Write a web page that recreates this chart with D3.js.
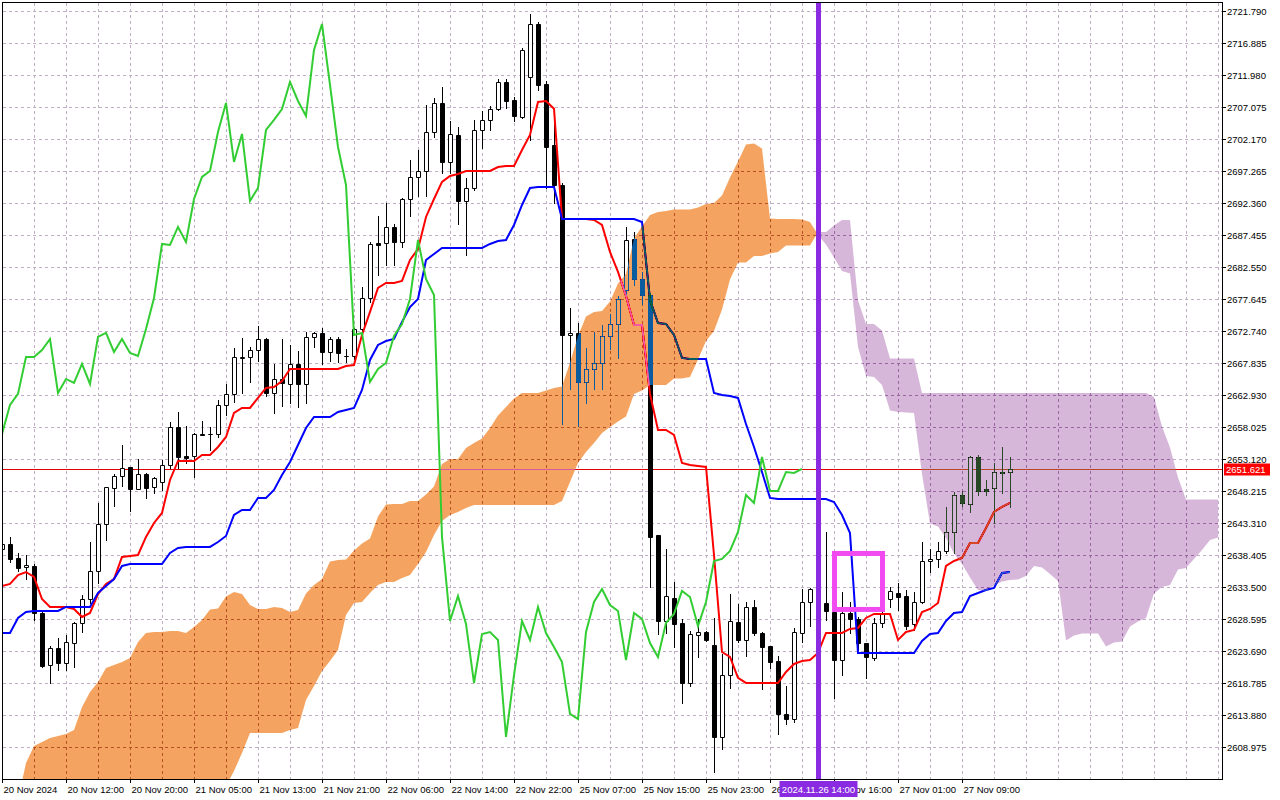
<!DOCTYPE html>
<html>
<head>
<meta charset="utf-8">
<script src="https://cdn.jsdelivr.net/npm/d3@7"></script>
<style>
	html, body { margin: 0; padding: 0; background: #fff; }
	svg { display: block; }
</style>
</head>
<body>
<svg id="chart" width="1280" height="800"></svg>
<script>
// H1 bars, XAUUSD-style, 20 Nov 2024 .. 27 Nov 2024
const open = [
	2639.33, 2640.10, 2637.95, 2636.57, 2636.72, 2629.52, 2621.54, 2624.15, 2621.85, 2624.92,
	2627.99, 2631.66, 2635.96, 2643.16, 2648.68, 2650.52, 2651.90, 2648.52, 2650.83, 2648.83,
	2649.60, 2652.20, 2658.03, 2653.58, 2653.58, 2656.96, 2656.96, 2656.96, 2661.40, 2663.09,
	2668.61, 2668.76, 2669.83, 2671.52, 2663.24, 2665.39, 2664.62, 2667.69, 2664.62, 2671.83,
	2672.44, 2669.52, 2671.52, 2668.91, 2668.91, 2673.05, 2677.80, 2686.23, 2686.23, 2688.69,
	2686.39, 2692.97, 2696.35, 2697.27, 2703.25, 2707.69, 2698.65, 2702.79, 2692.67, 2694.67,
	2703.55, 2705.09, 2706.77, 2710.91, 2708.15, 2705.55, 2711.68, 2719.80, 2710.61, 2701.26,
	2695.13, 2672.13, 2672.44, 2664.92, 2666.92, 2667.84, 2671.98, 2673.82, 2679.03, 2686.85,
	2680.72, 2678.26, 2641.48, 2628.29, 2631.82, 2627.99, 2618.79, 2626.14, 2626.60, 2624.61,
	2610.51, 2620.01, 2628.14, 2625.38, 2630.44, 2626.45, 2624.46, 2622.16, 2614.04, 2613.27,
	2626.45, 2631.20, 2633.19, 2631.05, 2629.67, 2622.31, 2629.52, 2628.60, 2624.92, 2622.62,
	2627.99, 2631.66, 2632.58, 2632.12, 2627.84, 2631.20, 2637.49, 2637.80, 2639.03, 2641.94,
	2647.61, 2646.23, 2653.43, 2648.52, 2648.68, 2651.13, 2651.13
];
const high = [
	2640.71, 2641.17, 2638.72, 2638.41, 2637.03, 2629.98, 2624.46, 2625.68, 2626.14, 2628.14,
	2632.27, 2640.40, 2646.38, 2648.83, 2650.83, 2655.27, 2651.90, 2653.12, 2650.98, 2650.37,
	2652.97, 2658.79, 2660.33, 2658.18, 2657.11, 2658.95, 2658.03, 2662.17, 2664.62, 2670.14,
	2671.68, 2670.29, 2673.51, 2671.68, 2667.69, 2671.52, 2670.60, 2669.68, 2672.59, 2672.59,
	2673.20, 2671.83, 2671.83, 2669.98, 2673.20, 2679.49, 2686.39, 2690.37, 2692.36, 2689.15,
	2693.13, 2698.96, 2700.49, 2707.38, 2708.46, 2710.14, 2704.93, 2704.01, 2696.20, 2705.09,
	2706.47, 2707.23, 2711.37, 2711.37, 2708.61, 2716.12, 2721.33, 2720.11, 2711.07, 2704.63,
	2695.43, 2676.27, 2673.97, 2670.14, 2672.59, 2673.66, 2675.35, 2678.11, 2688.69, 2687.92,
	2681.79, 2678.57, 2641.48, 2639.33, 2634.27, 2628.60, 2626.76, 2628.60, 2626.76, 2628.76,
	2623.24, 2632.42, 2630.90, 2631.20, 2631.51, 2626.60, 2624.46, 2622.93, 2618.33, 2627.22,
	2633.19, 2633.35, 2633.66, 2641.94, 2629.98, 2632.73, 2631.20, 2628.91, 2624.92, 2628.76,
	2629.98, 2633.50, 2634.12, 2633.04, 2632.73, 2640.40, 2639.33, 2640.40, 2645.77, 2648.07,
	2648.22, 2653.58, 2653.74, 2649.91, 2652.51, 2654.96, 2653.43
];
const low = [
	2638.87, 2637.33, 2635.96, 2634.73, 2628.45, 2621.24, 2618.79, 2620.78, 2620.78, 2621.24,
	2626.60, 2631.05, 2634.12, 2640.71, 2645.92, 2648.99, 2645.16, 2648.52, 2647.15, 2647.91,
	2648.37, 2651.74, 2651.74, 2652.51, 2650.37, 2656.81, 2654.50, 2656.50, 2659.87, 2661.86,
	2663.24, 2664.92, 2668.15, 2662.78, 2660.18, 2661.25, 2661.71, 2661.10, 2661.71, 2670.29,
	2667.69, 2668.15, 2667.99, 2667.99, 2668.45, 2672.44, 2677.19, 2681.33, 2682.86, 2682.86,
	2685.62, 2690.37, 2693.44, 2693.44, 2702.48, 2696.96, 2696.96, 2689.15, 2684.39, 2694.36,
	2700.80, 2703.55, 2706.62, 2706.93, 2704.93, 2705.40, 2702.02, 2709.68, 2694.67, 2692.36,
	2658.49, 2663.86, 2658.18, 2661.71, 2663.86, 2663.86, 2669.98, 2668.61, 2677.80, 2679.80,
	2676.88, 2633.50, 2626.29, 2626.45, 2624.30, 2615.72, 2618.33, 2622.77, 2625.23, 2605.14,
	2608.67, 2618.02, 2625.07, 2622.93, 2626.14, 2617.87, 2621.09, 2610.97, 2612.51, 2612.81,
	2625.07, 2627.53, 2629.67, 2628.45, 2616.49, 2620.01, 2626.45, 2623.85, 2619.56, 2622.31,
	2627.37, 2630.44, 2629.98, 2627.07, 2626.91, 2631.05, 2635.80, 2636.57, 2638.72, 2638.72,
	2645.92, 2645.00, 2647.61, 2647.61, 2643.31, 2647.91, 2645.77
];
const close = [
	2640.10, 2637.80, 2636.41, 2636.87, 2629.52, 2621.39, 2624.15, 2621.85, 2625.07, 2627.99,
	2631.66, 2635.96, 2643.16, 2648.83, 2650.52, 2651.74, 2648.52, 2650.83, 2648.68, 2650.21,
	2652.20, 2658.03, 2653.43, 2653.28, 2656.96, 2656.81, 2656.96, 2661.40, 2663.09, 2668.76,
	2668.76, 2669.83, 2671.52, 2663.24, 2665.39, 2664.77, 2667.69, 2664.62, 2671.83, 2672.44,
	2669.52, 2671.52, 2669.37, 2668.91, 2673.05, 2677.80, 2686.08, 2685.93, 2688.69, 2686.39,
	2692.97, 2696.35, 2697.27, 2703.25, 2707.69, 2698.65, 2702.94, 2692.67, 2694.67, 2703.55,
	2705.09, 2706.77, 2710.91, 2708.00, 2705.70, 2715.82, 2719.80, 2710.45, 2700.95, 2695.13,
	2672.13, 2672.44, 2664.92, 2666.92, 2667.84, 2671.98, 2673.82, 2677.65, 2686.69, 2680.72,
	2678.26, 2641.17, 2628.29, 2632.12, 2627.84, 2618.79, 2626.30, 2626.60, 2625.38, 2610.51,
	2620.01, 2628.29, 2625.38, 2630.44, 2626.45, 2624.30, 2622.00, 2614.04, 2613.27, 2626.60,
	2631.20, 2633.19, 2630.74, 2629.83, 2622.31, 2629.52, 2628.60, 2624.92, 2622.77, 2627.99,
	2629.37, 2632.89, 2631.97, 2627.53, 2631.20, 2637.49, 2637.80, 2639.03, 2641.94, 2647.61,
	2646.38, 2653.43, 2648.22, 2648.22, 2651.13, 2650.98, 2651.62
];

// Ichimoku lines
const tenkan = [
	2633.66, 2633.97, 2635.34, 2635.80, 2635.03, 2631.66, 2630.44, 2630.44, 2630.44, 2630.13,
	2628.91, 2629.52, 2632.42, 2633.97, 2634.73, 2638.11, 2638.26, 2638.41, 2641.17, 2643.31,
	2644.85, 2649.91, 2652.82, 2652.82, 2652.82, 2653.74, 2653.74, 2654.96, 2656.50, 2660.18,
	2660.94, 2660.94, 2662.48, 2664.01, 2664.16, 2665.08, 2666.92, 2666.92, 2666.92, 2666.92,
	2666.92, 2666.92, 2666.92, 2667.38, 2667.53, 2672.13, 2675.66, 2679.34, 2680.10, 2680.10,
	2680.41, 2683.63, 2685.31, 2690.22, 2692.97, 2695.59, 2696.50, 2696.81, 2697.27, 2697.27,
	2697.27, 2697.27, 2697.88, 2698.04, 2698.04, 2700.49, 2702.79, 2707.85, 2708.00, 2706.80,
	2689.91, 2689.91, 2689.91, 2689.91, 2689.76, 2688.99, 2684.85, 2681.79, 2678.11, 2673.66,
	2673.66, 2663.09, 2657.57, 2657.57, 2656.81, 2652.51, 2652.20, 2652.05, 2651.90, 2638.41,
	2623.54, 2622.77, 2619.56, 2618.79, 2618.79, 2618.79, 2618.79, 2618.79, 2620.48, 2621.70,
	2622.16, 2622.31, 2623.39, 2626.45, 2626.45, 2626.45, 2627.07, 2627.22, 2628.76, 2629.37,
	2629.37, 2629.37, 2625.38, 2626.60, 2626.91, 2629.67, 2630.13, 2631.05, 2636.72, 2637.49,
	2637.95, 2640.25, 2640.25, 2642.55, 2645.00, 2645.77, 2646.38
];
const kijun = [
	2626.45, 2626.45, 2628.76, 2629.67, 2629.83, 2629.83, 2629.83, 2629.83, 2630.44, 2630.44,
	2630.44, 2630.44, 2632.58, 2633.66, 2634.73, 2636.72, 2637.03, 2637.03, 2637.03, 2637.03,
	2637.03, 2638.72, 2639.48, 2639.64, 2639.64, 2639.64, 2639.64, 2640.40, 2641.32, 2644.54,
	2645.31, 2645.31, 2647.15, 2647.15, 2648.37, 2650.67, 2652.66, 2655.27, 2657.87, 2659.56,
	2659.56, 2659.56, 2660.33, 2660.64, 2660.94, 2663.70, 2668.30, 2670.60, 2671.21, 2671.52,
	2674.12, 2676.42, 2677.65, 2683.63, 2684.55, 2685.47, 2685.47, 2685.47, 2685.47, 2685.47,
	2685.47, 2686.08, 2686.54, 2686.69, 2688.99, 2692.06, 2694.66, 2694.82, 2694.82, 2694.82,
	2689.91, 2689.91, 2689.91, 2689.91, 2689.91, 2689.91, 2689.91, 2689.91, 2689.91, 2689.91,
	2689.45, 2677.50, 2673.97, 2673.82, 2672.13, 2668.61, 2668.45, 2668.45, 2668.45, 2663.24,
	2662.94, 2662.78, 2662.48, 2658.49, 2654.96, 2651.13, 2647.15, 2646.99, 2646.99, 2646.99,
	2646.99, 2646.99, 2646.99, 2646.99, 2646.53, 2644.54, 2641.78, 2623.39, 2623.39, 2623.39,
	2623.39, 2623.39, 2623.39, 2623.39, 2623.39, 2625.23, 2626.29, 2626.45, 2628.29, 2629.52,
	2629.67, 2632.12, 2632.58, 2633.04, 2633.35, 2635.65, 2635.80
];
// lagging span, drawn from bar 0 to bar 100
const chikou = [
	2656.96, 2661.40, 2663.09, 2668.76,
	2668.76, 2669.83, 2671.52, 2663.24, 2665.39, 2664.77, 2667.69, 2664.62, 2671.83, 2672.44,
	2669.52, 2671.52, 2669.37, 2668.91, 2673.05, 2677.80, 2686.08, 2685.93, 2688.69, 2686.39,
	2692.97, 2696.35, 2697.27, 2703.25, 2707.69, 2698.65, 2702.94, 2692.67, 2694.67, 2703.55,
	2705.09, 2706.77, 2710.91, 2708.00, 2705.70, 2715.82, 2719.80, 2710.45, 2700.95, 2695.13,
	2672.13, 2672.44, 2664.92, 2666.92, 2667.84, 2671.98, 2673.82, 2677.65, 2686.69, 2680.72,
	2678.26, 2641.17, 2628.29, 2632.12, 2627.84, 2618.79, 2626.30, 2626.60, 2625.38, 2610.51,
	2620.01, 2628.29, 2625.38, 2630.44, 2626.45, 2624.30, 2622.00, 2614.04, 2613.27, 2626.60,
	2631.20, 2633.19, 2630.74, 2629.83, 2622.31, 2629.52, 2628.60, 2624.92, 2622.77, 2627.99,
	2629.37, 2632.89, 2631.97, 2627.53, 2631.20, 2637.49, 2637.80, 2639.03, 2641.94, 2647.61,
	2646.38, 2653.43, 2648.22, 2648.22, 2651.13, 2650.98, 2651.62
];
// cloud edges, bar 0 .. bar 152 (26 bars into the future)
const spanA = [
	2597.79, 2599.02, 2600.86, 2606.53, 2609.13, 2609.74, 2610.36, 2610.66, 2610.97, 2611.58,
	2615.11, 2617.41, 2618.94, 2621.09, 2621.54, 2622.00, 2622.62, 2625.07, 2626.45, 2626.60,
	2626.60, 2626.76, 2626.76, 2626.45, 2627.37, 2628.45, 2630.06, 2630.21, 2632.05, 2632.74,
	2632.43, 2630.74, 2630.13, 2630.13, 2630.44, 2630.28, 2629.67, 2629.98, 2632.51, 2633.81,
	2634.73, 2637.41, 2637.64, 2637.72, 2639.10, 2640.17, 2640.94, 2644.31, 2646.15, 2646.23,
	2646.23, 2646.69, 2646.69, 2647.68, 2648.91, 2652.36, 2653.12, 2653.12, 2654.81, 2655.58,
	2656.27, 2657.87, 2659.79, 2661.10, 2662.40, 2663.24, 2663.24, 2663.24, 2663.62, 2664.01,
	2664.24, 2667.92, 2671.98, 2674.97, 2675.66, 2675.81, 2677.27, 2680.02, 2681.48, 2686.92,
	2688.76, 2690.52, 2690.98, 2691.14, 2691.37, 2691.37, 2691.37, 2691.67, 2692.21, 2692.36,
	2693.51, 2696.27, 2698.73, 2701.33, 2701.49, 2700.72, 2689.99, 2689.91, 2689.91, 2689.91,
	2689.84, 2689.45, 2687.46, 2686.00, 2684.01, 2681.94, 2681.56, 2670.29, 2665.85, 2665.69,
	2664.47, 2660.56, 2660.33, 2660.25, 2660.18, 2650.83, 2643.24, 2642.78, 2641.02, 2638.64,
	2637.03, 2634.96, 2633.04, 2632.89, 2633.73, 2634.35, 2634.58, 2634.66, 2635.19, 2636.72,
	2636.49, 2635.50, 2634.43, 2625.30, 2626.07, 2626.38, 2626.38, 2626.38, 2624.39, 2625.00,
	2625.15, 2627.45, 2628.22, 2628.76, 2632.51, 2633.50, 2633.81, 2636.19, 2636.41, 2637.80,
	2639.18, 2640.71, 2641.09
];
const spanB = [
	2590.13, 2590.43, 2590.74, 2591.35, 2591.66, 2591.97, 2592.27, 2592.89, 2593.19, 2593.81,
	2594.42, 2595.03, 2595.34, 2595.64, 2596.26, 2596.87, 2597.48, 2598.09, 2598.55, 2599.02,
	2599.32, 2599.63, 2599.94, 2600.24, 2600.55, 2600.70, 2600.86, 2601.62, 2603.00, 2605.30,
	2608.06, 2611.12, 2611.12, 2611.12, 2611.12, 2611.12, 2611.58, 2611.89, 2616.18, 2618.33,
	2620.63, 2622.16, 2623.85, 2629.21, 2631.05, 2631.20, 2632.58, 2633.81, 2634.27, 2634.27,
	2634.88, 2635.34, 2637.03, 2638.87, 2641.48, 2643.62, 2644.54, 2645.00, 2645.61, 2646.08,
	2646.08, 2646.08, 2646.08, 2646.08, 2646.08, 2646.08, 2646.08, 2646.08, 2646.08, 2646.08,
	2646.69, 2649.60, 2652.51, 2654.20, 2655.58, 2657.11, 2658.03, 2658.87, 2659.64, 2663.09,
	2663.62, 2664.47, 2664.47, 2664.47, 2665.46, 2665.46, 2665.69, 2668.38, 2671.21, 2672.74,
	2676.04, 2680.64, 2683.24, 2683.24, 2684.24, 2684.24, 2684.62, 2684.85, 2685.85, 2685.85,
	2685.85, 2685.85, 2687.92, 2687.92, 2688.92, 2689.76, 2689.76, 2677.42, 2673.82, 2673.82,
	2672.82, 2668.53, 2668.53, 2668.53, 2668.53, 2663.24, 2663.24, 2663.24, 2663.24, 2663.24,
	2663.24, 2663.24, 2663.24, 2663.24, 2663.24, 2663.24, 2663.24, 2663.24, 2663.24, 2663.24,
	2663.24, 2663.24, 2663.24, 2663.24, 2663.24, 2663.24, 2663.24, 2663.24, 2663.24, 2663.24,
	2663.24, 2663.24, 2663.24, 2663.24, 2662.63, 2658.11, 2654.89, 2650.29, 2646.92, 2646.92,
	2646.92, 2646.92, 2646.92
];

const priceTicks = [
	2608.975, 2613.880, 2618.785, 2623.690, 2628.595, 2633.500, 2638.405, 2643.310,
	2648.215, 2653.120, 2658.025, 2662.930, 2667.835, 2672.740, 2677.645, 2682.550,
	2687.455, 2692.360, 2697.265, 2702.170, 2707.075, 2711.980, 2716.885, 2721.790
];
const timeLabels = [
	'20 Nov 2024', '20 Nov 12:00', '20 Nov 20:00', '21 Nov 05:00', '21 Nov 13:00', '21 Nov 21:00',
	'22 Nov 06:00', '22 Nov 14:00', '22 Nov 22:00', '25 Nov 07:00', '25 Nov 15:00', '25 Nov 23:00',
	'26 Nov 08:00', '26 Nov 16:00', '27 Nov 01:00', '27 Nov 09:00'
];
const barsPerLabel = 8;
const bidPrice = 2651.621;
const markerBar = 102;
const markerLabel = '2024.11.26 14:00';
const zone = { t0: 104, t1: 110, p0: 2638.64, p1: 2630.06 };

// Scales and layout
const font = '"Liberation Sans", Arial, sans-serif';
const plot = { left: 3, top: 3, right: 1222, bottom: 779 };
const x = d3.scaleLinear().domain([0, 152]).range([2, 1218]);
const y = d3.scaleLinear().domain([2608.975, 2721.79]).range([747, 11]);

const svg = d3.select('#chart');
svg.append('rect').attr('width', 1280).attr('height', 800).attr('fill', '#fff');

svg.append('defs').append('clipPath').attr('id', 'plotClip')
	.append('rect')
	.attr('x', plot.left).attr('y', plot.top)
	.attr('width', plot.right - plot.left).attr('height', plot.bottom - plot.top);

// Everything inside one clipped group, so the cloud blends with what is under it
const g = svg.append('g').attr('clip-path', 'url(#plotClip)');
g.append('rect')
	.attr('x', 0).attr('y', 0).attr('width', 1280).attr('height', 800)
	.attr('fill', '#fff');

// Grid
const gridColor = '#c2adc6';
g.append('g').selectAll('line')
	.data(priceTicks)
.join('line')
	.attr('x1', plot.left).attr('x2', plot.right)
	.attr('y1', d => Math.round(y(d)) + 0.5).attr('y2', d => Math.round(y(d)) + 0.5)
	.attr('stroke', gridColor).attr('stroke-dasharray', '3,3');
g.append('g').selectAll('line')
	.data(d3.range(0, 153, 4))
.join('line')
	.attr('x1', d => x(d) + 0.5).attr('x2', d => x(d) + 0.5)
	.attr('y1', plot.top).attr('y2', plot.bottom)
	.attr('stroke', gridColor).attr('stroke-dasharray', '3,3');

// Bid line
g.append('line')
	.attr('x1', plot.left).attr('x2', plot.right)
	.attr('y1', Math.round(y(bidPrice)) + 0.5).attr('y2', Math.round(y(bidPrice)) + 0.5)
	.attr('stroke', '#e00000').attr('stroke-width', 1);

// Candles
const bars = open.map((o, i) => ({ i: i, o: o, h: high[i], l: low[i], c: close[i] }));
const candles = g.append('g');
candles.selectAll('line')
	.data(bars)
.join('line')
	.attr('x1', d => x(d.i) + 0.5).attr('x2', d => x(d.i) + 0.5)
	.attr('y1', d => Math.round(y(d.h))).attr('y2', d => Math.round(y(d.l)) + 1)
	.attr('stroke', '#000').attr('stroke-width', 1);
candles.selectAll('path')
	.data(bars)
.join('path')
	.attr('d', d => {
		const top = Math.round(y(Math.max(d.o, d.c))) + 0.5;
		const bot = Math.round(y(Math.min(d.o, d.c))) + 0.5;
		const cx = x(d.i);
		return 'M' + (cx - 1.5) + ',' + top + 'H' + (cx + 2.5) + 'V' + bot + 'H' + (cx - 1.5) + 'Z';
	})
	.attr('fill', d => d.c >= d.o ? '#fff' : '#000')
	.attr('stroke', '#000').attr('stroke-width', 1);

// Tenkan / Kijun
const line = d3.line().x((d, i) => x(i)).y(d => y(d));
g.append('path').datum(tenkan)
	.attr('d', line).attr('fill', 'none')
	.attr('stroke', '#ff0000').attr('stroke-width', 2);
g.append('path').datum(kijun)
	.attr('d', line).attr('fill', 'none')
	.attr('stroke', '#0000ff').attr('stroke-width', 2);

// Cloud: split into regions where span A is above / below span B
const regions = [];
let cur = null;
for (let i = 0; i < spanA.length; i++) {
	const d = spanA[i] - spanB[i];
	const s = d >= 0 ? 1 : -1;
	if (!cur) {
		cur = { s: s, pts: [[i, spanA[i], spanB[i]]] };
	}
	else if (s === cur.s) {
		cur.pts.push([i, spanA[i], spanB[i]]);
	}
	else {
		const dp = spanA[i - 1] - spanB[i - 1];
		const t = dp / (dp - d);
		const xi = i - 1 + t;
		const pc = spanA[i - 1] + (spanA[i] - spanA[i - 1]) * t;
		cur.pts.push([xi, pc, pc]);
		regions.push(cur);
		cur = { s: s, pts: [[xi, pc, pc], [i, spanA[i], spanB[i]]] };
	}
}
regions.push(cur);

const regionPath = r => {
	const topChain = r.pts.map(p => x(p[0]) + ',' + y(p[1]));
	const botChain = r.pts.slice().reverse().map(p => x(p[0]) + ',' + y(p[2]));
	return 'M' + topChain.join('L') + 'L' + botChain.join('L') + 'Z';
};
// drawn in difference mode, like the terminal's XOR fill
g.append('path')
	.attr('d', regions.filter(r => r.s > 0).map(regionPath).join(''))
	.attr('fill', 'rgb(11,91,159)')
	.style('mix-blend-mode', 'difference');
g.append('path')
	.attr('d', regions.filter(r => r.s < 0).map(regionPath).join(''))
	.attr('fill', 'rgb(40,72,38)')
	.style('mix-blend-mode', 'difference');

// Chikou
g.append('path').datum(chikou)
	.attr('d', line).attr('fill', 'none')
	.attr('stroke', '#32cd32').attr('stroke-width', 2);

// Vertical marker and zone rectangle
g.append('line')
	.attr('x1', x(markerBar) + 0.5).attr('x2', x(markerBar) + 0.5)
	.attr('y1', plot.top).attr('y2', plot.bottom)
	.attr('stroke', '#8a2be2').attr('stroke-width', 5);
g.append('rect')
	.attr('x', x(zone.t0) + 0.5).attr('y', y(zone.p0))
	.attr('width', x(zone.t1) - x(zone.t0)).attr('height', y(zone.p1) - y(zone.p0))
	.attr('fill', 'none').attr('stroke', '#f04af0').attr('stroke-width', 5);

// Frame
svg.append('rect')
	.attr('x', 2.5).attr('y', 2.5)
	.attr('width', plot.right - 2).attr('height', plot.bottom - 2)
	.attr('fill', 'none').attr('stroke', '#000');

// Price axis
const yAxis = svg.append('g')
	.attr('transform', 'translate(' + plot.right + ',0)')
	.call(d3.axisRight(y).tickValues(priceTicks).tickSize(4).tickPadding(1).tickFormat(d3.format('.3f')));
yAxis.select('.domain').remove();
yAxis.attr('font-family', font).attr('font-size', 9.5);
yAxis.selectAll('.tick line').attr('stroke', '#000');
yAxis.selectAll('.tick text').attr('fill', '#000');

// Time axis
const xAxis = svg.append('g')
	.attr('transform', 'translate(0,' + plot.bottom + ')')
	.call(d3.axisBottom(x)
		.tickValues(timeLabels.map((d, k) => k * barsPerLabel))
		.tickSize(4)
		.tickFormat((d, k) => timeLabels[k]));
xAxis.select('.domain').remove();
xAxis.attr('font-family', font).attr('font-size', 9.5);
xAxis.selectAll('.tick line').attr('stroke', '#000');
xAxis.selectAll('.tick text').attr('fill', '#000').attr('text-anchor', 'start').attr('x', 1);

// Bid label
const bidY = Math.round(y(bidPrice)) + 0.5;
svg.append('rect')
	.attr('x', plot.right + 2).attr('y', bidY - 6)
	.attr('width', 46).attr('height', 12)
	.attr('fill', '#ff0000');
svg.append('text')
	.attr('x', plot.right + 4).attr('y', bidY + 3.5)
	.attr('font-family', font).attr('font-size', 9.5)
	.attr('fill', '#fff')
	.text(d3.format('.3f')(bidPrice));

// Marker time label, painted over the axis labels it covers
const mx = x(markerBar) + 0.5;
svg.append('rect')
	.attr('x', mx - 39).attr('y', plot.bottom + 2)
	.attr('width', 78).attr('height', 16)
	.attr('fill', '#8a2be2');
svg.append('text')
	.attr('x', mx).attr('y', plot.bottom + 14)
	.attr('text-anchor', 'middle')
	.attr('font-family', font).attr('font-size', 9.5)
	.attr('fill', '#fff')
	.text(markerLabel);
</script>
</body>
</html>
